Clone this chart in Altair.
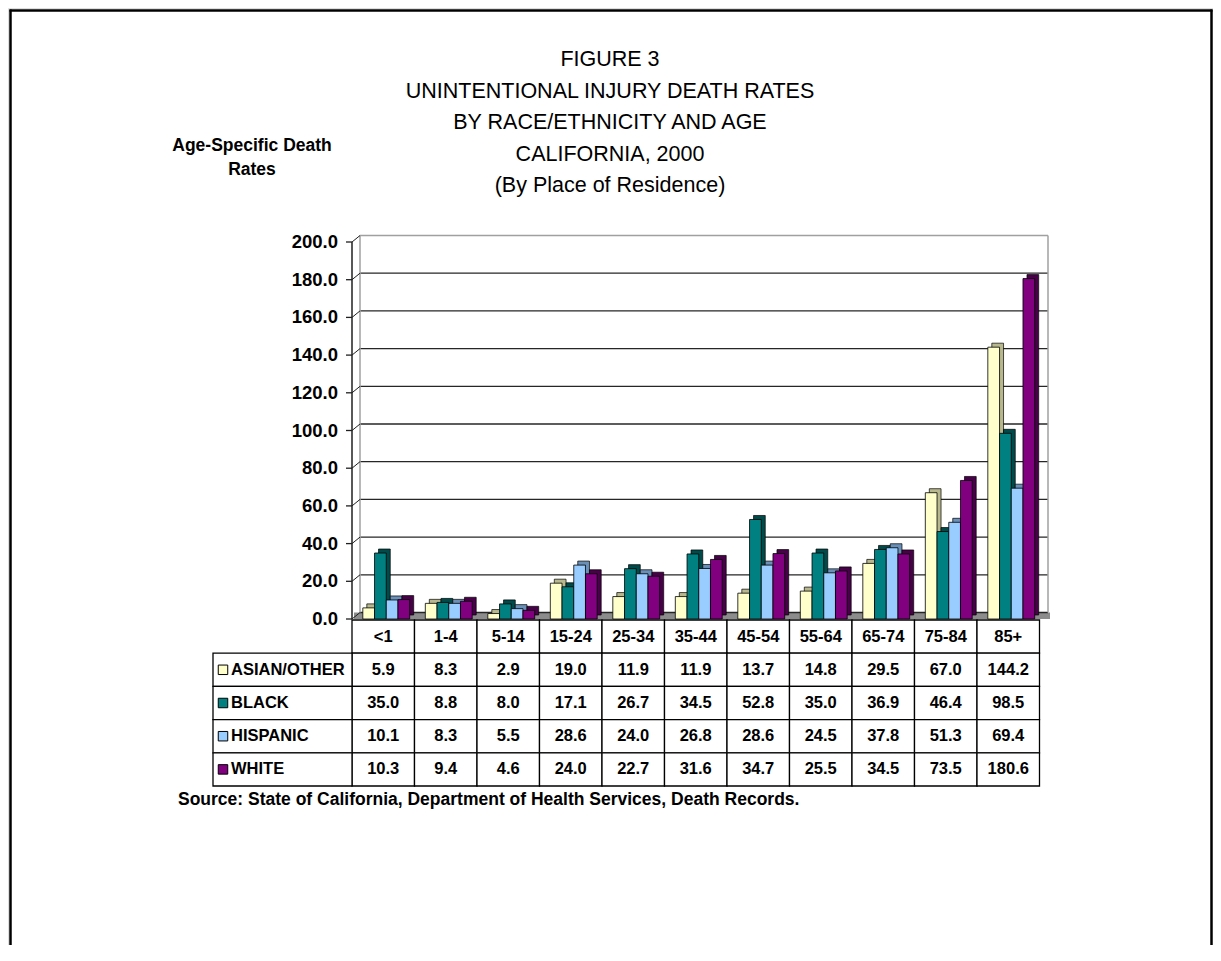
import altair as alt
import pandas as pd

# ---------------- data ----------------
AGES = ["<1", "1-4", "5-14", "15-24", "25-34", "35-44", "45-54", "55-64", "65-74", "75-84", "85+"]
RACES = ["ASIAN/OTHER", "BLACK", "HISPANIC", "WHITE"]
ASIAN_OTHER = [5.9, 8.3, 2.9, 19.0, 11.9, 11.9, 13.7, 14.8, 29.5, 67.0, 144.2]
BLACK = [35.0, 8.8, 8.0, 17.1, 26.7, 34.5, 52.8, 35.0, 36.9, 46.4, 98.5]
HISPANIC = [10.1, 8.3, 5.5, 28.6, 24.0, 26.8, 28.6, 24.5, 37.8, 51.3, 69.4]
WHITE = [10.3, 9.4, 4.6, 24.0, 22.7, 31.6, 34.7, 25.5, 34.5, 73.5, 180.6]
TICKS = [0, 20, 40, 60, 80, 100, 120, 140, 160, 180, 200]
TITLE_LINES = ["FIGURE 3", "UNINTENTIONAL INJURY DEATH RATES", "BY RACE/ETHNICITY AND AGE",
               "CALIFORNIA, 2000", "(By Place of Residence)"]
Y_TITLE = ["Age-Specific Death", "Rates"]
SOURCE = "Source: State of California, Department of Health Services, Death Records."

# ---------------- styles ----------------
COLORS = ["#FFFFCC", "#008080", "#99CCFF", "#800080"]
SHADES = ["#B8B88E", "#004A4A", "#6A90B8", "#480048"]
FONT = "Liberation Sans, Arial, sans-serif"

series = {"ASIAN/OTHER": ASIAN_OTHER, "BLACK": BLACK, "HISPANIC": HISPANIC, "WHITE": WHITE}
bars = pd.DataFrame([{"age": a, "race": r, "value": v}
                     for r in RACES for a, v in zip(AGES, series[r])])
ticks = pd.DataFrame({"tick": TICKS})

ROW_KEYS = ["header"] + RACES
cells = [{"age": a, "row": "header", "text": a} for a in AGES]
cells += [{"age": a, "row": r, "text": f"{v:.1f}"} for r in RACES for a, v in zip(AGES, series[r])]
cells = pd.DataFrame(cells)
legend_rows = pd.DataFrame({"row": RACES})
one = pd.DataFrame({"k": [0]})

# ---------------- geometry (px inside the view) ----------------
DX, DY = 8, -6.5
BAR_RANGE = [347, 1034.5]
DEPTH = 4


def ys():
    return alt.Scale(domain=[0, 200], range=[611, 234], nice=False, zero=False)


def yq(field):
    return alt.Y(field, type="quantitative", scale=ys(), axis=None)


def yd(v):
    return alt.Y(datum=v, type="quantitative", scale=ys(), axis=None)


def x_bar(shift=0):
    return alt.X("age:N", sort=AGES, axis=None,
                 scale=alt.Scale(domain=AGES, range=[BAR_RANGE[0] + shift, BAR_RANGE[1] + shift],
                                 paddingInner=0.25, paddingOuter=0.125))


def xo():
    return alt.XOffset("race:N", sort=RACES, scale=alt.Scale(domain=RACES, paddingInner=0, paddingOuter=0))


floor = alt.Chart(one).mark_rect(color="#8c8c8c", y2Offset=DY).encode(
    x=alt.value(346), x2=alt.value(1042), y=yd(0), y2=alt.Y2(datum=0))
grid = alt.Chart(ticks).mark_rule(yOffset=DY, strokeWidth=1.3).encode(
    x=alt.value(344 + DX), x2=alt.value(1040), y=yq("tick"),
    color=alt.condition(alt.datum.tick == 200, alt.value("#a0a0a0"), alt.value("#262626")))
wall_l = alt.Chart(one).mark_rule(yOffset=DY, y2Offset=DY, color="#a0a0a0", strokeWidth=1.5).encode(
    x=alt.value(344 + DX), y=yd(0), y2=alt.Y2(datum=200))
wall_r = alt.Chart(one).mark_rule(yOffset=DY, y2Offset=DY, color="#a0a0a0", strokeWidth=1.5).encode(
    x=alt.value(1040), y=yd(0), y2=alt.Y2(datum=200))
tick_marks = alt.Chart(ticks).mark_rule(color="#202020", strokeWidth=1.3).encode(
    x=alt.value(338), x2=alt.value(344), y=yq("tick"))
tick_diag = alt.Chart(ticks).mark_rule(color="#202020", strokeWidth=1, y2Offset=DY).encode(
    x=alt.value(344), x2=alt.value(344 + DX), y=yq("tick"), y2=alt.Y2("tick"))
axis_line = alt.Chart(one).mark_rule(color="#202020", strokeWidth=1.5).encode(
    x=alt.value(344), y=yd(0), y2=alt.Y2(datum=200))
tick_labels = alt.Chart(ticks).mark_text(align="right", baseline="middle", font=FONT, fontSize=18.5,
                                         fontWeight="bold", color="black").encode(
    x=alt.value(330), y=yq("tick"), text=alt.Text("tick:Q", format=".1f"))

shade = alt.Chart(bars).mark_bar(yOffset=-DEPTH, stroke="black", strokeWidth=0.7).encode(
    x=x_bar(DEPTH), xOffset=xo(), y=yq("value"),
    fill=alt.Fill("race:N", scale=alt.Scale(domain=RACES, range=SHADES), legend=None))
front = alt.Chart(bars).mark_bar(stroke="black", strokeWidth=0.8).encode(
    x=x_bar(0), xOffset=xo(), y=yq("value"),
    color=alt.Color("race:N", scale=alt.Scale(domain=RACES, range=COLORS), legend=None))

# ---------------- table ----------------
def x_tab():
    return alt.X("age:N", sort=AGES, axis=None,
                 scale=alt.Scale(domain=AGES, range=[344, 1031.5], paddingInner=0, paddingOuter=0))


def y_tab():
    return alt.Y("row:N", sort=ROW_KEYS, axis=None,
                 scale=alt.Scale(domain=ROW_KEYS, range=[612, 778], paddingInner=0, paddingOuter=0))


cell_rect = alt.Chart(cells).mark_rect(fill="white", stroke="black", strokeWidth=1.3).encode(
    x=x_tab(), y=y_tab())
cell_text = alt.Chart(cells).mark_text(font=FONT, fontSize=16.5, fontWeight="bold", color="black").encode(
    x=x_tab(), y=y_tab(), text="text:N")
leg_rect = alt.Chart(legend_rows).mark_rect(fill="white", stroke="black", strokeWidth=1.3).encode(
    x=alt.value(205), x2=alt.value(344), y=y_tab())
leg_sq = alt.Chart(legend_rows).mark_square(size=90, stroke="black", strokeWidth=1, opacity=1).encode(
    x=alt.value(215), y=y_tab(),
    color=alt.Color("row:N", scale=alt.Scale(domain=RACES, range=COLORS), legend=None))
leg_text = alt.Chart(legend_rows).mark_text(align="left", font=FONT, fontSize=16.5, fontWeight="bold",
                                            color="black").encode(
    x=alt.value(223), y=y_tab(), text="row:N")

# ---------------- texts & frame ----------------
title = alt.Chart(one).mark_text(text=TITLE_LINES, lineHeight=31.5, align="center", baseline="top",
                                 font=FONT, fontSize=21.5, color="black").encode(
    x=alt.value(602), y=alt.value(41))
ytitle = alt.Chart(one).mark_text(text=Y_TITLE, lineHeight=24, align="center", baseline="top",
                                  font=FONT, fontSize=17.5, fontWeight="bold", color="black").encode(
    x=alt.value(244), y=alt.value(129))
source = alt.Chart(one).mark_text(text=SOURCE, align="left", baseline="middle",
                                  font=FONT, fontSize=17.5, fontWeight="bold", color="black").encode(
    x=alt.value(170), y=alt.value(792))
frame_l = alt.Chart(one).mark_rule(color="black", strokeWidth=2.5).encode(
    x=alt.value(2.5), y=alt.value(1.5), y2=alt.value(960))
frame_t = alt.Chart(one).mark_rule(color="black", strokeWidth=2.5).encode(
    x=alt.value(1.5), x2=alt.value(1204.5), y=alt.value(2.5))
frame_r = alt.Chart(one).mark_rule(color="black", strokeWidth=2.5).encode(
    x=alt.value(1203.5), y=alt.value(1.5), y2=alt.value(960))

chart = alt.layer(
    floor, grid, wall_l, wall_r, tick_marks, tick_diag, axis_line, tick_labels, shade, front,
    cell_rect, cell_text, leg_rect, leg_sq, leg_text,
    title, ytitle, source, frame_l, frame_t, frame_r,
).resolve_scale(
    x="independent", y="independent"
).properties(
    width=1205, height=937, padding=0, autosize=alt.AutoSizeParams(type="none")
).configure_view(strokeWidth=0).configure(background="white")

chart.save("out.html", embed_options={"renderer": "svg", "actions": False})
